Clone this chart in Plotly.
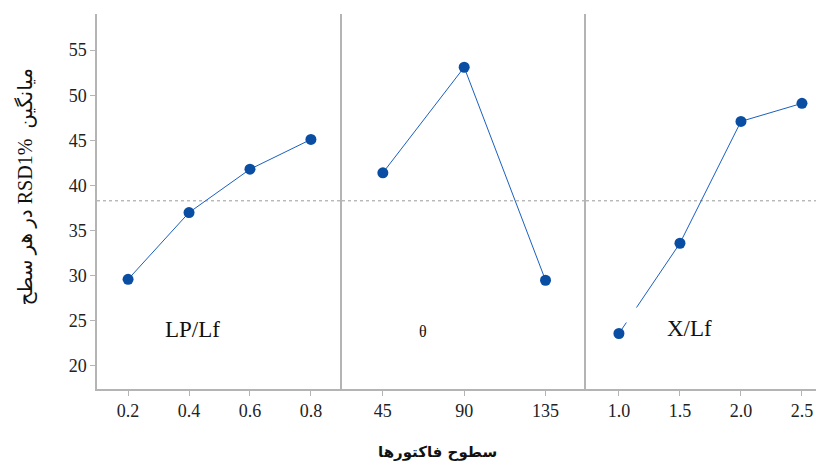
import plotly.graph_objects as go

# ---- data ----
lp_levels = [0.2, 0.4, 0.6, 0.8]
lp_means = [29.6, 37.0, 41.8, 45.1]
theta_levels = [45, 90, 135]
theta_means = [41.4, 53.1, 29.5]
x_levels = [1.0, 1.5, 2.0, 2.5]
x_means = [23.6, 33.6, 47.1, 49.1]
overall_mean = 38.3

lp_ticks = ["0.2", "0.4", "0.6", "0.8"]
theta_ticks = ["45", "90", "135"]
x_ticks = ["1.0", "1.5", "2.0", "2.5"]
y_ticks = [20, 25, 30, 35, 40, 45, 50, 55]

panel_labels = ["LP/Lf", "θ", "X/Lf"]
# logical order arranged so that the LTR SVG text shows the phrase as in the reference
y_title = "در هر سطح RSD1%  میانگین"
x_title = "سطوح فاکتورها"

MARK = "#0a4ea3"
LINE = "#1a5fbf"
AX = "#b4b4b4"
SERIF = "Liberation Serif"

fig = go.Figure()
series = [(lp_levels, lp_means, "x", "y"),
          (theta_levels, theta_means, "x2", "y2"),
          (x_levels, x_means, "x3", "y3")]
for xs, ys, xa, ya in series:
    fig.add_trace(go.Scatter(x=xs, y=ys, xaxis=xa, yaxis=ya, mode="lines+markers",
                             line=dict(color=LINE, width=1),
                             marker=dict(color=MARK, size=11),
                             showlegend=False, cliponaxis=False))

d1 = (342 - 97) / 719
d2 = (586 - 97) / 719
yr = [17.45, 59.0]

fig.update_layout(
    font=dict(family=SERIF, size=18, color="#222"),
    xaxis=dict(domain=[0, d1], range=[0.098, 0.902], tickmode="array",
               tickvals=lp_levels, ticktext=lp_ticks, anchor="y"),
    xaxis2=dict(domain=[d1, d2], range=[22.4, 157.4], tickmode="array",
                tickvals=theta_levels, ticktext=theta_ticks, anchor="y2"),
    xaxis3=dict(domain=[d2, 1], range=[0.73, 2.615], tickmode="array",
                tickvals=x_levels, ticktext=x_ticks, anchor="y3"),
    yaxis=dict(range=yr, tickmode="array", tickvals=y_ticks, anchor="x"),
    yaxis2=dict(range=yr, showticklabels=False, ticks="", anchor="x2"),
    yaxis3=dict(range=yr, showticklabels=False, ticks="", anchor="x3"),
    width=816, height=466,
    margin=dict(l=97, r=0, t=14, b=77),
    paper_bgcolor="white", plot_bgcolor="white",
)
fig.update_xaxes(showline=True, linecolor=AX, linewidth=1.5, ticks="outside",
                 ticklen=5, tickcolor=AX, showgrid=False, zeroline=False,
                 tickfont=dict(family=SERIF, size=18, color="#222"))
fig.update_yaxes(showline=True, linecolor=AX, linewidth=1.5,
                 showgrid=False, zeroline=False,
                 tickfont=dict(family=SERIF, size=18, color="#222"))
fig.update_layout(yaxis=dict(ticks="outside", ticklen=5, tickcolor=AX))

for xa, ya in [("x", "y"), ("x2", "y2"), ("x3", "y3")]:
    fig.add_shape(type="line", xref=xa + " domain", yref=ya, x0=0, x1=1,
                  y0=overall_mean, y1=overall_mean,
                  line=dict(color="#999", width=1, dash="dot"), layer="below")

# small white break in the first X/Lf segment, as seen in the reference
fig.add_annotation(xref="x3", yref="y3", x=1.10, y=25.6, text=" ", showarrow=False,
                   bgcolor="white", width=12, height=14, borderpad=0)

# panel labels
fig.add_annotation(xref="x", yref="y", x=0.41, y=24.0, text=panel_labels[0],
                   showarrow=False, font=dict(family=SERIF, size=23, color="#111"))
fig.add_annotation(xref="x2", yref="y2", x=67, y=23.8, text=panel_labels[1],
                   showarrow=False, font=dict(family=SERIF, size=16, color="#111"))
fig.add_annotation(xref="x3", yref="y3", x=1.58, y=24.1, text=panel_labels[2],
                   showarrow=False, font=dict(family=SERIF, size=23, color="#111"))

fig.add_annotation(xref="paper", yref="paper", x=(437 - 97) / 719, y=-0.168,
                   yanchor="middle", text="<b>" + x_title + "</b>", showarrow=False,
                   font=dict(family="DejaVu Sans", size=15, color="#111"))
fig.add_annotation(xref="paper", yref="paper", x=-(97 - 25) / 719, y=0.54,
                   xanchor="center", yanchor="middle", textangle=-90,
                   text=y_title, showarrow=False,
                   font=dict(family="Liberation Serif, DejaVu Sans", size=20, color="#111"))

fig.write_html("out.html", config={"displayModeBar": False},
               post_script="document.body.style.margin='0';document.body.style.padding='0';")
